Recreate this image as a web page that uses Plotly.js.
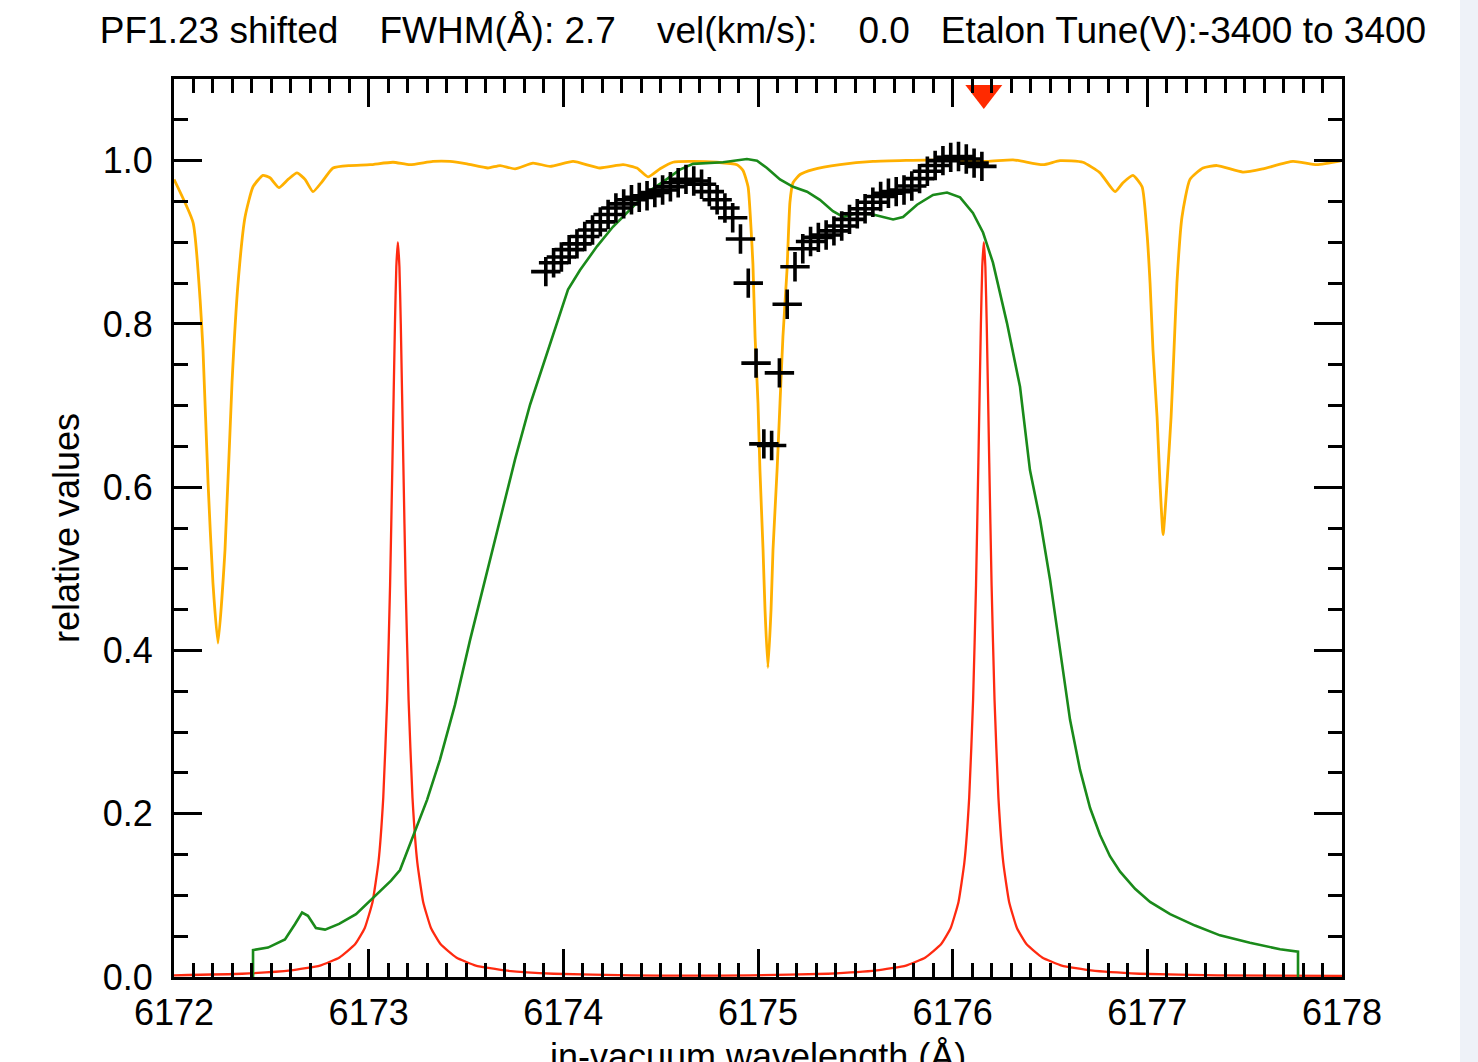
<!DOCTYPE html>
<html>
<head>
<meta charset="utf-8">
<script src="https://cdn.plot.ly/plotly-3.0.1.min.js"></script>
<style>
  html, body { margin: 0; padding: 0; background: #eef2f8; }
  #chart { width: 1460px; height: 1062px; background: #ffffff; }
</style>
</head>
<body>
<div id="chart"></div>
<script>
// ---- Solar spectrum (orange) ----
const solarWave = [6172.000, 6172.098, 6172.134, 6172.149, 6172.175, 6172.200, 6172.226, 6172.262, 6172.298, 6172.329,
  6172.365, 6172.406, 6172.457, 6172.493, 6172.539, 6172.586, 6172.632, 6172.673, 6172.714, 6172.760,
  6172.817, 6172.904, 6173.007, 6173.125, 6173.212, 6173.330, 6173.418, 6173.505, 6173.613, 6173.675,
  6173.752, 6173.844, 6173.932, 6174.050, 6174.188, 6174.307, 6174.378, 6174.435, 6174.497, 6174.563,
  6174.651, 6174.789, 6174.892, 6174.923, 6174.949, 6174.964, 6174.974, 6174.985, 6175.000, 6175.010,
  6175.026, 6175.036, 6175.051, 6175.067, 6175.077, 6175.098, 6175.113, 6175.128, 6175.149, 6175.164,
  6175.180, 6175.216, 6175.282, 6175.421, 6175.591, 6175.935, 6176.176, 6176.310, 6176.464, 6176.551,
  6176.669, 6176.757, 6176.834, 6176.875, 6176.926, 6176.973, 6176.998, 6177.014, 6177.029, 6177.050,
  6177.065, 6177.081, 6177.101, 6177.122, 6177.137, 6177.152, 6177.178, 6177.219, 6177.286, 6177.358,
  6177.491, 6177.594, 6177.748, 6177.871, 6178.000];
const solarFlux = [0.977, 0.924, 0.830, 0.768, 0.605, 0.483, 0.409, 0.523, 0.728, 0.850,
  0.931, 0.968, 0.982, 0.979, 0.967, 0.977, 0.985, 0.977, 0.962, 0.974,
  0.991, 0.994, 0.995, 0.998, 0.995, 0.999, 0.999, 0.996, 0.991, 0.994,
  0.990, 0.997, 0.993, 0.999, 0.991, 0.995, 0.991, 0.980, 0.990, 0.998,
  0.999, 0.998, 0.995, 0.988, 0.968, 0.918, 0.873, 0.784, 0.703, 0.621,
  0.523, 0.450, 0.379, 0.450, 0.523, 0.621, 0.703, 0.784, 0.866, 0.949,
  0.973, 0.983, 0.989, 0.995, 0.999, 1.001, 0.999, 1.001, 0.995, 1.000,
  0.998, 0.985, 0.962, 0.973, 0.982, 0.968, 0.912, 0.850, 0.768, 0.686,
  0.605, 0.542, 0.605, 0.686, 0.768, 0.850, 0.931, 0.977, 0.991, 0.994,
  0.986, 0.990, 0.999, 0.995, 1.000];

// ---- Prefilter profile (green) ----
const filterWave = [6172.406, 6172.406, 6172.483, 6172.570, 6172.622, 6172.658, 6172.688, 6172.729, 6172.776, 6172.848,
  6172.935, 6173.033, 6173.115, 6173.161, 6173.238, 6173.300, 6173.366, 6173.443, 6173.521, 6173.598,
  6173.675, 6173.752, 6173.829, 6173.906, 6173.973, 6174.024, 6174.086, 6174.173, 6174.255, 6174.342,
  6174.430, 6174.512, 6174.599, 6174.666, 6174.820, 6174.943, 6174.995, 6175.046, 6175.113, 6175.180,
  6175.252, 6175.318, 6175.385, 6175.437, 6175.509, 6175.591, 6175.694, 6175.745, 6175.817, 6175.899,
  6175.971, 6176.038, 6176.104, 6176.156, 6176.207, 6176.279, 6176.346, 6176.397, 6176.449, 6176.500,
  6176.551, 6176.603, 6176.654, 6176.706, 6176.757, 6176.808, 6176.860, 6176.937, 6177.014, 6177.117,
  6177.245, 6177.373, 6177.527, 6177.682, 6177.774, 6177.774];
const filterTrans = [0.000, 0.033, 0.036, 0.046, 0.065, 0.079, 0.075, 0.060, 0.058, 0.065,
  0.077, 0.099, 0.118, 0.131, 0.180, 0.217, 0.266, 0.333, 0.413, 0.487,
  0.560, 0.634, 0.701, 0.756, 0.805, 0.842, 0.866, 0.895, 0.919, 0.940,
  0.961, 0.974, 0.989, 0.996, 0.998, 1.002, 1.000, 0.991, 0.977, 0.968,
  0.962, 0.952, 0.938, 0.931, 0.936, 0.934, 0.928, 0.931, 0.946, 0.958,
  0.961, 0.955, 0.936, 0.912, 0.875, 0.801, 0.723, 0.621, 0.560, 0.487,
  0.401, 0.315, 0.254, 0.207, 0.174, 0.148, 0.129, 0.108, 0.092, 0.077,
  0.063, 0.051, 0.042, 0.034, 0.031, 0.000];

// ---- Etalon transmission (red) ----
const etalonWave = [6172.000, 6172.350, 6172.600, 6172.750, 6172.850, 6172.930, 6172.980, 6173.020, 6173.050, 6173.075,
  6173.095, 6173.110, 6173.122, 6173.135, 6173.142, 6173.150, 6173.158, 6173.165, 6173.178, 6173.190,
  6173.205, 6173.225, 6173.250, 6173.280, 6173.320, 6173.370, 6173.450, 6173.550, 6173.700, 6173.950,
  6174.350, 6174.650, 6174.960, 6175.360, 6175.610, 6175.760, 6175.860, 6175.940, 6175.990, 6176.030,
  6176.060, 6176.085, 6176.105, 6176.120, 6176.132, 6176.145, 6176.152, 6176.160, 6176.168, 6176.175,
  6176.188, 6176.200, 6176.215, 6176.235, 6176.260, 6176.290, 6176.330, 6176.380, 6176.460, 6176.560,
  6176.710, 6176.960, 6177.360, 6178.000];
const etalonTrans = [0.002, 0.004, 0.008, 0.014, 0.024, 0.040, 0.060, 0.092, 0.140, 0.220,
  0.340, 0.480, 0.630, 0.800, 0.870, 0.900, 0.870, 0.800, 0.630, 0.480,
  0.340, 0.220, 0.140, 0.092, 0.060, 0.040, 0.024, 0.014, 0.008, 0.004,
  0.002, 0.0016, 0.002, 0.004, 0.008, 0.014, 0.024, 0.040, 0.060, 0.092,
  0.140, 0.220, 0.340, 0.480, 0.630, 0.800, 0.870, 0.900, 0.870, 0.800,
  0.630, 0.480, 0.340, 0.220, 0.140, 0.092, 0.060, 0.040, 0.024, 0.014,
  0.008, 0.004, 0.002, 0.0015];

// ---- Measured scan (black crosses) ----
const scanWave = [6173.91, 6173.95, 6173.99, 6174.03, 6174.07, 6174.11, 6174.15, 6174.19, 6174.23, 6174.27,
  6174.31, 6174.35, 6174.39, 6174.43, 6174.47, 6174.51, 6174.55, 6174.59, 6174.63, 6174.67,
  6174.71, 6174.75, 6174.79, 6174.83, 6174.87, 6174.91, 6174.95, 6174.99, 6175.03, 6175.07,
  6175.11, 6175.15, 6175.19, 6175.23, 6175.27, 6175.31, 6175.35, 6175.39, 6175.43, 6175.47,
  6175.51, 6175.55, 6175.59, 6175.63, 6175.67, 6175.71, 6175.75, 6175.79, 6175.83, 6175.87,
  6175.91, 6175.95, 6175.99, 6176.03, 6176.07, 6176.11, 6176.15];
const scanValue = [0.864, 0.875, 0.882, 0.891, 0.898, 0.907, 0.915, 0.925, 0.934, 0.942,
  0.947, 0.952, 0.955, 0.957, 0.961, 0.964, 0.968, 0.973, 0.977, 0.975,
  0.971, 0.962, 0.952, 0.942, 0.930, 0.904, 0.850, 0.752, 0.653, 0.651,
  0.740, 0.824, 0.870, 0.892, 0.901, 0.906, 0.909, 0.914, 0.920, 0.928,
  0.935, 0.941, 0.949, 0.956, 0.960, 0.962, 0.964, 0.969, 0.978, 0.987,
  0.994, 1.000, 1.004, 1.005, 1.002, 0.997, 0.993];

// ---- Current tuning position marker (red triangle) ----
const tuneWave = [6176.16];
const tuneLevel = [1.083];

const titleText = "PF1.23 shifted\u00a0\u00a0\u00a0\u00a0FWHM(\u00c5): 2.7\u00a0\u00a0\u00a0\u00a0vel(km/s):\u00a0\u00a0\u00a0\u00a00.0\u00a0\u00a0\u00a0Etalon Tune(V):-3400 to 3400";
const xTitle = "in-vacuum wavelength (\u00c5)";
const yTitle = "relative values";

const FONT = "'Liberation Sans', Arial, Helvetica, sans-serif";

const traces = [
  { x: solarWave, y: solarFlux, type: 'scatter', mode: 'lines',
    line: { color: '#ffb000', width: 2.8, shape: 'spline', smoothing: 0.5 } },
  { x: etalonWave, y: etalonTrans, type: 'scatter', mode: 'lines',
    line: { color: '#ff2a10', width: 2.3, shape: 'spline', smoothing: 0.4 } },
  { x: filterWave, y: filterTrans, type: 'scatter', mode: 'lines',
    line: { color: '#1a8a1a', width: 2.6 } },
  { x: scanWave, y: scanValue, type: 'scatter', mode: 'markers',
    marker: { symbol: 'cross-thin', size: 21, color: '#000000', line: { color: '#000000', width: 3.6 } } },
  { x: tuneWave, y: tuneLevel, type: 'scatter', mode: 'markers',
    marker: { symbol: 'triangle-down', size: 32, color: '#ff2a00', line: { width: 0 } } }
];

const axisCommon = {
  showline: true, linewidth: 3, linecolor: '#000000', mirror: 'ticks',
  ticks: 'inside', ticklen: 28, tickwidth: 3, tickcolor: '#000000',
  showgrid: false, zeroline: false,
  tickfont: { family: FONT, size: 36, color: '#000000' }
};

const layout = {
  width: 1460, height: 1062,
  margin: { l: 174, r: 118, t: 79, b: 85, pad: 0 },
  paper_bgcolor: '#ffffff', plot_bgcolor: '#ffffff',
  showlegend: false,
  font: { family: FONT, color: '#000000' },
  title: { text: titleText, x: 763 / 1460, xref: 'container', xanchor: 'center',
    y: 1 - 30 / 1062, yref: 'container', yanchor: 'middle',
    font: { family: FONT, size: 37, color: '#000000' } },
  xaxis: Object.assign({}, axisCommon, {
    range: [6172, 6178], tick0: 6172, dtick: 1, tickformat: 'd',
    minor: { dtick: 0.1, ticks: 'inside', ticklen: 14, tickwidth: 3, tickcolor: '#000000', showgrid: false },
    ticklabelstandoff: 2
  }),
  yaxis: Object.assign({}, axisCommon, {
    range: [0, 1.1], tick0: 0, dtick: 0.2, tickformat: '.1f',
    minor: { dtick: 0.05, ticks: 'inside', ticklen: 14, tickwidth: 3, tickcolor: '#000000', showgrid: false },
    ticklabelstandoff: 11,
    title: { text: yTitle, standoff: 13, font: { family: FONT, size: 36, color: '#000000' } }
  }),
  annotations: [
    { text: xTitle, xref: 'paper', yref: 'paper', x: 0.5, y: -(1056 - 977) / 898,
      xanchor: 'center', yanchor: 'middle', showarrow: false,
      font: { family: FONT, size: 36, color: '#000000' } }
  ]
};

Plotly.newPlot('chart', traces, layout, { staticPlot: true, displayModeBar: false });
</script>
</body>
</html>
